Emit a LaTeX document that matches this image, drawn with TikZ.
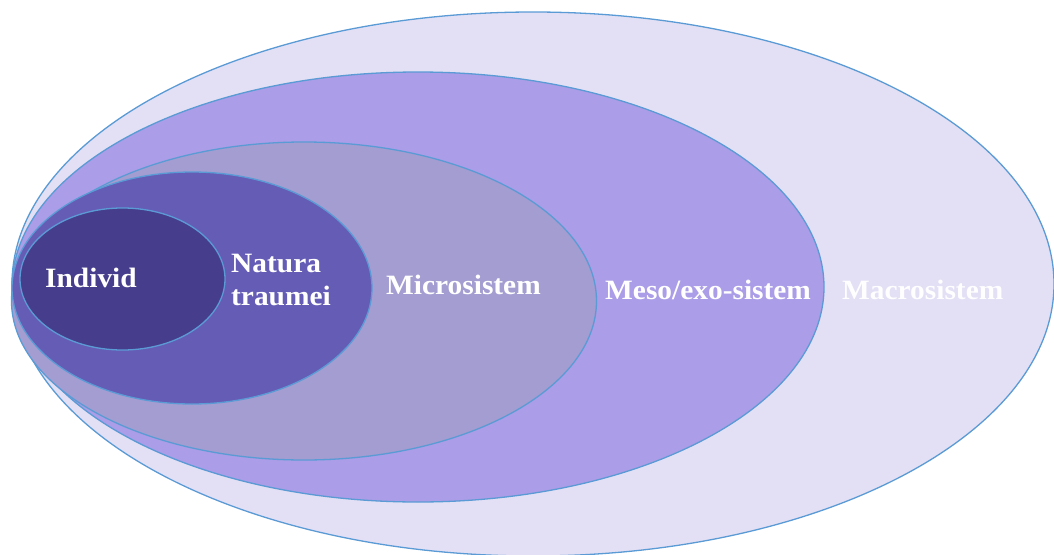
\documentclass[tikz,border=0pt]{standalone}
\usepackage{fontspec}
\setmainfont{Liberation Serif}[FakeStretch=1.05]
\usetikzlibrary{shapes.geometric}
\definecolor{edge}{HTML}{5B9BD5}
\definecolor{cmacro}{HTML}{E3DFF5}
\definecolor{cmeso}{HTML}{AB9DE7}
\definecolor{cmicro}{HTML}{A39DD1}
\definecolor{cnat}{HTML}{655CB6}
\definecolor{cind}{HTML}{463E8C}
\tikzset{
  ring/.style={ellipse, draw=edge, line width=1.3pt, inner sep=0pt},
  lbl/.style={text=white, font=\fontsize{28}{33}\selectfont\bfseries, inner sep=0pt}
}
\begin{document}
\begin{tikzpicture}[x=1pt,y=-1pt]
\useasboundingbox (0,0) rectangle (1054,554);
\node[ring, fill=cmacro, minimum width=1042pt, minimum height=544pt] (macro) at (533,284) {};
\node[ring, fill=cmeso, minimum width=812pt, minimum height=430pt] (meso) at (418,287) {};
\node[ring, fill=cmicro, minimum width=585pt, minimum height=318pt] (micro) at (304,301) {};
\node[ring, fill=cnat, minimum width=360pt, minimum height=232pt] (nat) at (192,288) {};
\node[ring, fill=cind, minimum width=205pt, minimum height=142pt] (ind) at (122.5,279) {};
\node[lbl, anchor=west] (tind) at (45,278) {Individ};
\node[lbl, anchor=west, align=left] (tnat) at (231,280) {Natura\\traumei};
\node[lbl, anchor=west] (tmicro) at (386,285) {Microsistem};
\node[lbl, anchor=west] (tmeso) at (605,290) {Meso/exo-sistem};
\node[lbl, anchor=west, text=white!97!cmacro] (tmacro) at (842,290) {Macrosistem};
\end{tikzpicture}
\end{document}
